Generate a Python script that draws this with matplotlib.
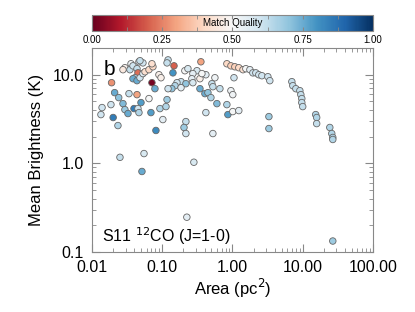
import numpy as np
import matplotlib
matplotlib.use('Agg')
import matplotlib.pyplot as plt
from matplotlib.ticker import FixedLocator, FormatStrFormatter, LogLocator, NullFormatter

plt.rcParams['font.family'] = ['Liberation Sans', 'DejaVu Sans']

# area (pc^2), mean brightness (K), match quality
area = [0.0294, 0.0276, 0.0347, 0.0359, 0.0383, 0.0437, 0.0466, 0.0531, 0.0482, 0.0451,
        0.0409, 0.0383, 0.0437, 0.0482, 0.0531, 0.0568, 0.0647, 0.0737, 0.0713, 0.0897,
        0.096, 0.0713, 0.0787, 0.019, 0.021, 0.0336, 0.024, 0.0276, 0.0437, 0.0647,
        0.0498, 0.0186, 0.0139, 0.0134, 0.020, 0.0234, 0.0294, 0.0325, 0.0396, 0.0451,
        0.0466, 0.069, 0.0927, 0.113, 0.117, 0.102, 0.0813, 0.025, 0.055, 0.0514,
        0.224, 0.121, 0.117, 0.147, 0.142, 0.21, 0.232, 0.312, 0.273, 0.355,
        0.344, 0.264, 0.185, 0.217, 0.162, 0.152, 0.137, 0.121, 0.185, 0.562,
        0.509, 0.526, 0.662, 0.418, 0.367, 0.344, 0.405, 0.447, 0.493, 0.6,
        0.832, 0.95, 1.01, 1.05, 0.86, 1.01, 1.23, 0.418, 0.217, 0.204,
        0.217, 0.526, 0.282, 0.273, 0.832, 0.95, 1.08, 1.23, 1.41, 1.55,
        1.77, 1.95, 2.15, 2.37, 2.62, 3.19, 3.40, 7.0, 7.23, 7.98,
        9.1, 9.4, 9.7, 9.7, 10.0, 3.30, 3.30, 15.3, 15.8, 15.8,
        24.3, 25.9, 26.8, 26.8, 26.8]
brightness = [12.0, 11.4, 11.4, 13.3, 12.6, 11.7, 14.0, 13.6, 14.4, 10.5,
              9.25, 9.02, 8.57, 9.25, 10.3, 10.8, 11.4, 12.3, 13.3, 10.0,
              9.25, 8.13, 6.96, 8.13, 6.28, 6.12, 5.52, 4.72, 5.96, 5.38,
              4.85, 4.6, 4.26, 3.55, 3.29, 2.67, 4.04, 3.65, 4.15, 4.15,
              3.74, 3.74, 4.15, 4.37, 5.24, 3.12, 2.35, 1.17, 1.29, 0.81,
              0.247, 14.7, 13.6, 12.6, 10.5, 11.1, 11.7, 11.1, 10.3, 14.0,
              9.02, 9.02, 8.35, 7.92, 8.13, 7.52, 6.96, 6.96, 7.14, 9.25,
              7.92, 7.33, 6.96, 10.0, 10.3, 6.96, 6.12, 6.28, 5.52, 4.72,
              4.6, 6.61, 5.96, 9.25, 3.55, 3.84, 3.94, 3.74, 2.96, 2.54,
              2.17, 2.17, 1.03, 8.13, 13.3, 12.6, 12.3, 12.0, 11.4, 11.7,
              11.4, 10.5, 10.5, 10.0, 9.75, 9.5, 8.57, 8.35, 7.52, 6.96,
              6.61, 5.96, 5.38, 4.85, 4.37, 3.37, 2.47, 3.55, 3.29, 2.81,
              2.54, 2.17, 1.96, 1.86, 0.133]
quality = [0.48, 0.45, 0.62, 0.52, 0.60, 0.62, 0.55, 0.60, 0.62, 0.22,
           0.65, 0.75, 0.75, 0.60, 0.55, 0.42, 0.40, 0.40, 0.42, 0.47,
           0.47, 0.02, 0.75, 0.27, 0.75, 0.62, 0.70, 0.72, 0.30, 0.50,
           0.78, 0.60, 0.60, 0.60, 0.85, 0.65, 0.68, 0.75, 0.85, 0.60,
           0.65, 0.78, 0.65, 0.65, 0.68, 0.55, 0.82, 0.62, 0.58, 0.75,
           0.55, 0.62, 0.62, 0.20, 0.80, 0.50, 0.58, 0.58, 0.55, 0.30,
           0.47, 0.55, 0.62, 0.70, 0.60, 0.65, 0.70, 0.60, 0.55, 0.52,
           0.62, 0.62, 0.62, 0.55, 0.50, 0.75, 0.75, 0.70, 0.65, 0.72,
           0.65, 0.52, 0.52, 0.60, 0.78, 0.50, 0.55, 0.60, 0.62, 0.68,
           0.60, 0.55, 0.58, 0.58, 0.40, 0.38, 0.38, 0.40, 0.42, 0.50,
           0.55, 0.60, 0.60, 0.60, 0.60, 0.60, 0.60, 0.62, 0.62, 0.62,
           0.62, 0.62, 0.62, 0.62, 0.62, 0.68, 0.68, 0.65, 0.65, 0.62,
           0.65, 0.65, 0.65, 0.65, 0.68]

x_ticks = [0.01, 0.1, 1, 10, 100]
y_ticks = [0.1, 1, 10]
cb_ticks = [0.0, 0.25, 0.5, 0.75, 1.0]

fig = plt.figure(figsize=(4.15, 3.12), dpi=100)
ax = fig.add_axes([0.2217, 0.1923, 0.677, 0.6537])
cax = fig.add_axes([0.2217, 0.9006, 0.677, 0.051])

sc = ax.scatter(area, brightness, c=quality, cmap='RdBu', vmin=0, vmax=1,
                s=22, edgecolors='#666666', linewidths=0.6, zorder=3)

ax.set_xscale('log')
ax.set_yscale('log')
ax.set_xlim(0.01, 100)
ax.set_ylim(0.1, 20)
ax.xaxis.set_major_locator(FixedLocator(x_ticks))
ax.yaxis.set_major_locator(FixedLocator(y_ticks))
ax.xaxis.set_major_formatter(FormatStrFormatter('%.2f'))
ax.yaxis.set_major_formatter(FormatStrFormatter('%.1f'))
ax.xaxis.set_minor_locator(LogLocator(base=10, subs=np.arange(2, 10)))
ax.yaxis.set_minor_locator(LogLocator(base=10, subs=np.arange(2, 10)))
ax.xaxis.set_minor_formatter(NullFormatter())
ax.yaxis.set_minor_formatter(NullFormatter())
ax.tick_params(which='both', direction='in', top=True, right=True, color='#888888')
ax.tick_params(which='major', length=6, width=0.8, labelsize=11.5, pad=6)
ax.tick_params(which='minor', length=3, width=0.6)
for sp in ax.spines.values():
    sp.set_color('#888888')
    sp.set_linewidth(0.8)

ax.set_xlabel('Area (pc$^2$)', fontsize=12, labelpad=1)
ax.set_ylabel('Mean Brightness (K)', fontsize=12, labelpad=6)
ax.text(0.04, 0.94, 'b', transform=ax.transAxes, fontsize=15, va='top')
ax.text(0.035, 0.05, 'S11 $^{12}$CO (J=1-0)', transform=ax.transAxes, fontsize=11.5)

cb = fig.colorbar(sc, cax=cax, orientation='horizontal')
cb.set_ticks(cb_ticks)
cb.ax.xaxis.set_major_formatter(FormatStrFormatter('%.2f'))
cb.ax.xaxis.set_minor_locator(FixedLocator(np.arange(0, 1.01, 0.125)))
cb.ax.tick_params(which='both', direction='in', top=True, bottom=True,
                  color='#888888', length=3, labelsize=7, pad=3)
cb.outline.set_edgecolor('#888888')
cb.outline.set_linewidth(0.8)
cax.text(0.5, 0.5, 'Match Quality', transform=cax.transAxes, ha='center',
         va='center', fontsize=7)

fig.savefig('out.png', dpi=100)
